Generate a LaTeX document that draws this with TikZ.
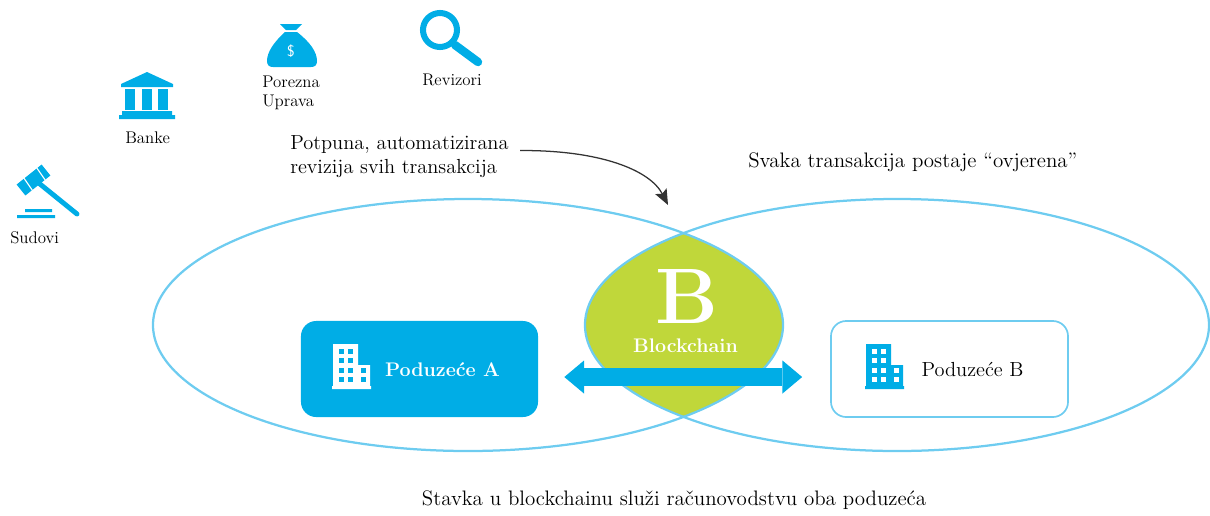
\documentclass[tikz,border=0pt]{standalone}
\usepackage{fontspec}
\usepackage{xcolor}
\usepackage{tikz}
\usetikzlibrary{positioning, arrows.meta, shapes}

\definecolor{chainblue}{RGB}{0,173,230}
\definecolor{ringblue}{RGB}{110,204,240}
\definecolor{lensgreen}{RGB}{192,215,58}

% office building icon, top left corner at (#1,#2)
\newcommand{\officeicon}[4]{%
  \begin{scope}[shift={(#1,#2)}]
    \fill[#3] (1,0) rectangle (26,43) (26,21) rectangle (38,43) (0,42) rectangle (39,45);
    \foreach \wx in {7,16} \foreach \wy in {5,14,24,33} \fill[#4] (\wx,\wy) rectangle ++(4.5,4.5);
    \foreach \wy in {24,33} \fill[#4] (29,\wy) rectangle ++(4.5,4.5);
  \end{scope}}

\begin{document}
\begin{tikzpicture}[x=0.025cm, y=-0.025cm,
    ring/.style={draw=ringblue, line width=1.6pt},
    firm/.style={rounded corners=0.38cm, minimum width=5.925cm, minimum height=2.4cm, inner sep=0pt},
    txt/.style={inner sep=0pt, font=\fontsize{14.5}{17}\selectfont, align=left},
    lbl/.style={inner sep=0pt, font=\fontsize{12}{13.5}\selectfont, align=left}]

    \useasboundingbox (0,0) rectangle (1210,515);

    % Lens of the two ellipses
    \begin{scope}
        \clip (468,325) ellipse [x radius=315, y radius=126];
        \fill[lensgreen] (897,325) ellipse [x radius=312, y radius=126];
    \end{scope}
    \draw[ring] (468,325) ellipse [x radius=315, y radius=126];
    \draw[ring] (897,325) ellipse [x radius=312, y radius=126];

    \node[anchor=base, inner sep=0pt, text=white, font=\bfseries\fontsize{56}{56}\selectfont] (bigB) at (687,323) {B};
    \node[anchor=base, inner sep=0pt, text=white, font=\bfseries\fontsize{14}{14}\selectfont] (chain) at (685.5,352) {Blockchain};

    % Companies
    \node[firm, fill=chainblue] (firmA) at (419.5,369) {};
    \node[firm, draw=ringblue, line width=1.2pt, fill=white] (firmB) at (949.5,369) {};
    \officeicon{332}{344}{white}{chainblue}
    \officeicon{865}{344}{chainblue}{white}
    \node[anchor=base, inner sep=0pt, text=white, font=\bfseries\fontsize{14}{17}\selectfont] (nameA) at (442.5,376) {Poduzeće A};
    \node[txt, anchor=base] (nameB) at (972.5,376) {Poduzeće B};

    \draw[chainblue, line width=12.8pt, shorten <=18.5pt, shorten >=19.9pt,
        {Triangle[length=14pt 0 0, width=23.5pt 0 0, line width=0pt]}-{Triangle[length=14pt 0 0, width=23.5pt 0 0, line width=0pt]}]
        ([yshift=-5.7pt]firmA.east) -- ([yshift=-5.7pt]firmB.west);

    % Icons
    \draw[chainblue, line width=3.5pt, line cap=round] (35,180) -- (77,214);
    \draw[chainblue, line width=10pt] (21,190) -- (46,170);
    \draw[white, line width=0.8pt] (23.5,177.5) -- (32.5,190.5) (36.5,167.5) -- (45.5,180.5);
    \fill[chainblue] (25,209) rectangle (52,212) (17,215) rectangle (55,218);

    \fill[chainblue] (121,87) -- (121,84) -- (147,72) -- (173,84) -- (173,87) -- cycle;
    \foreach \cx in {125,142,158} \fill[chainblue] (\cx,89) rectangle ++(10,21);
    \fill[chainblue] (122,111) rectangle (172,115) (119,115) rectangle (175,119);

    \fill[chainblue] (280,24) -- (302,24) -- (296,30) -- (286,30) -- cycle;
    \fill[chainblue] (285,32) -- (297,32) .. controls (310,42) and (317,52) .. (317,61)
        .. controls (317,65) and (315,67) .. (311,67) -- (273,67)
        .. controls (269,67) and (267,65) .. (267,61) .. controls (267,52) and (274,42) .. (285,32) -- cycle;
    \node[text=white, inner sep=0pt, font=\sffamily\fontsize{11}{11}\selectfont] (dollar) at (291,51) {\$};

    \draw[chainblue, line width=4.3pt] (440,30) circle [radius=17];
    \draw[chainblue, line width=6pt, line cap=round] (455,45) -- (478,62);

    % Labels
    \node[lbl, anchor=base west] (sudovi) at (10,243) {Sudovi};
    \node[lbl, anchor=base west] (banke) at (125,143) {Banke};
    \node[lbl, anchor=base west] (porezna) at (262,106) {Porezna\\Uprava};
    \node[lbl, anchor=base west] (revizori) at (422,85) {Revizori};

    \node[txt, anchor=base west] (revizija) at (290,173) {Potpuna, automatizirana\\revizija svih transakcija};
    \node[txt, anchor=base west, font=\fontsize{14.9}{17}\selectfont] (svaka) at (748,167) {Svaka transakcija postaje “ovjerena”};
    \node[txt, anchor=base, font=\fontsize{14.9}{17}\selectfont] (stavka) at (674,505) {Stavka u blockchainu služi računovodstvu oba poduzeća};

    \coordinate (lenstop) at (668,205);
    \draw[black!80, line width=0.9pt, -{Stealth[length=11pt, width=9pt, inset=2pt]}]
        ([xshift=8pt, yshift=4pt]revizija.east) .. controls (600,150) and (650,170) .. (lenstop);
\end{tikzpicture}
\end{document}
